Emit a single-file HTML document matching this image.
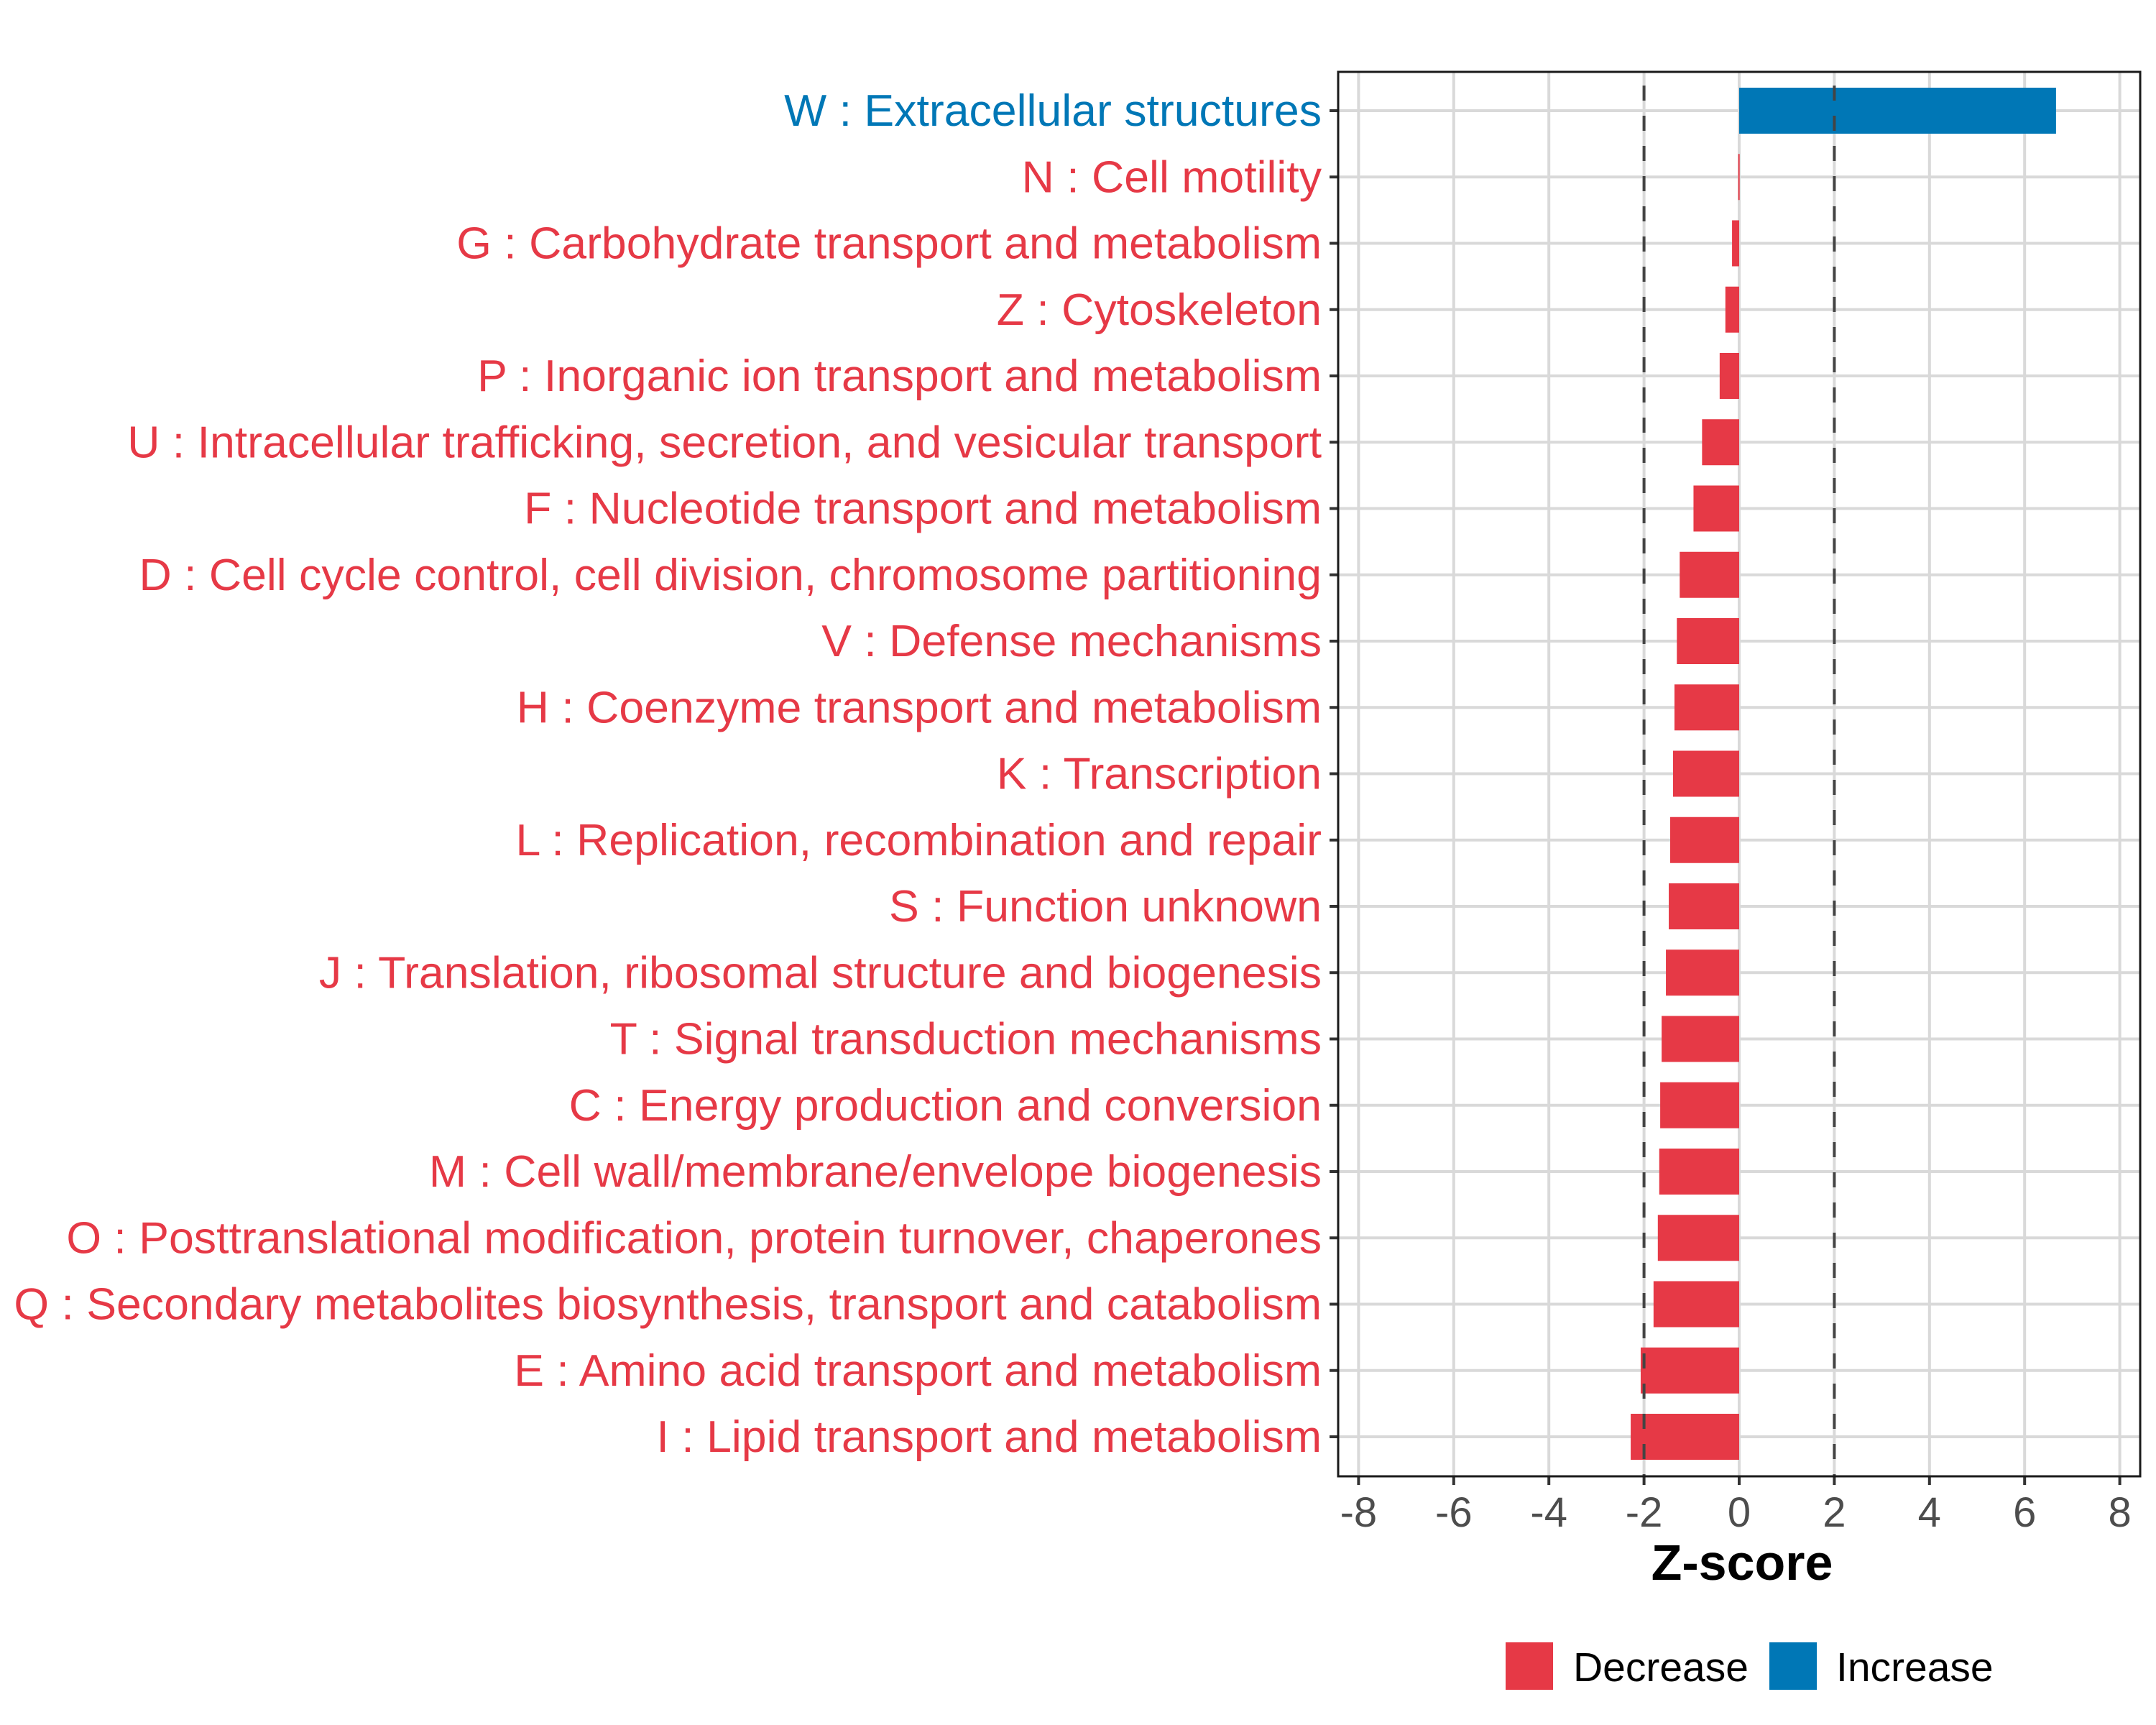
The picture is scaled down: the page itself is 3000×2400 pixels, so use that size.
<!DOCTYPE html>
<html><head><meta charset="utf-8"><style>
html,body{margin:0;padding:0;background:#fff;}
svg{display:block;font-family:"Liberation Sans",Arial,sans-serif;}
</style></head><body>
<svg id="chart" width="3000" height="2400" viewBox="0 0 3000 2400" xmlns="http://www.w3.org/2000/svg">
<rect width="3000" height="2400" fill="#fff"/>
<g id="grid"></g><g id="bars"></g><g id="refs"></g><g id="axes"></g>
<text x="2424" y="2198" text-anchor="middle" font-size="70" font-weight="bold" fill="#000">Z-score</text>
<g>
<rect x="2095" y="2285" width="66" height="66" fill="#E63946"/>
<text x="2189" y="2339" font-size="57" fill="#000">Decrease</text>
<rect x="2462" y="2285" width="66" height="66" fill="#0077B6"/>
<text x="2555" y="2339" font-size="57" fill="#000">Increase</text>
</g>
</svg>
<script>
const categories = ["W : Extracellular structures","N : Cell motility","G : Carbohydrate transport and metabolism","Z : Cytoskeleton","P : Inorganic ion transport and metabolism","U : Intracellular trafficking, secretion, and vesicular transport","F : Nucleotide transport and metabolism","D : Cell cycle control, cell division, chromosome partitioning","V : Defense mechanisms","H : Coenzyme transport and metabolism","K : Transcription","L : Replication, recombination and repair","S : Function unknown","J : Translation, ribosomal structure and biogenesis","T : Signal transduction mechanisms","C : Energy production and conversion","M : Cell wall/membrane/envelope biogenesis","O : Posttranslational modification, protein turnover, chaperones","Q : Secondary metabolites biosynthesis, transport and catabolism","E : Amino acid transport and metabolism","I : Lipid transport and metabolism"];
const zscores = [6.66,-0.02,-0.15,-0.29,-0.41,-0.78,-0.96,-1.25,-1.31,-1.36,-1.39,-1.45,-1.48,-1.54,-1.63,-1.66,-1.68,-1.71,-1.80,-2.07,-2.28];
const xTicks = [-8,-6,-4,-2,0,2,4,6,8];
const refLines = [-2,2];

const NS="http://www.w3.org/2000/svg";
const PL=1862, PR=2978, PT=100, PB=2054;
const X0=2420, UNIT=66.2;
const Y0=154, STEP=92.25, BARH=64;
function xs(v){return X0+v*UNIT;}
function ys(i){return Y0+i*STEP;}
function mk(tag,attrs,parent){const e=document.createElementNS(NS,tag);for(const k in attrs)e.setAttribute(k,attrs[k]);parent.appendChild(e);return e;}
const grid=document.getElementById('grid'),bars=document.getElementById('bars'),refs=document.getElementById('refs'),axes=document.getElementById('axes');

xTicks.forEach(t=>{
  const l=mk('line',{x1:xs(t),x2:xs(t),y1:PT,y2:PB,stroke:'#d9d9d9','stroke-width':4},grid);
  
  
  const tk=mk('line',{x1:xs(t),x2:xs(t),y1:PB,y2:PB+12,stroke:'#333','stroke-width':4},axes);
  
  
  const tx=mk('text',{x:xs(t),y:PB+70,'text-anchor':'middle','font-size':58,fill:'#4d4d4d'},axes);
  tx.textContent=t;
  
  
});
categories.forEach((c,i)=>{
  const g=mk('line',{x1:PL,x2:PR,y1:ys(i),y2:ys(i),stroke:'#d9d9d9','stroke-width':4},grid);
  
  
  const v=zscores[i];
  const col=v>0?'#0077B6':'#E63946';
  const x1=Math.min(xs(0),xs(v)), w=Math.max(Math.abs(xs(v)-xs(0)),2);
  const b=mk('rect',{x:x1,y:ys(i)-BARH/2,width:w,height:BARH,fill:col},bars);
  
  
  const tk=mk('line',{x1:PL-12,x2:PL,y1:ys(i),y2:ys(i),stroke:'#333','stroke-width':4},axes);
  
  
  const t=mk('text',{x:PL-23,y:ys(i)+21,'text-anchor':'end','font-size':62.6,fill:col},axes);
  t.textContent=c;
  
  
});
refLines.forEach(r=>{
  const l=mk('line',{x1:xs(r),x2:xs(r),y1:PT,y2:PB,stroke:'#444','stroke-width':4,'stroke-dasharray':'21 21','stroke-dashoffset':'-19'},refs);
  
  
});
const fr=mk('rect',{x:PL,y:PT,width:PR-PL,height:PB-PT,fill:'none',stroke:'#1a1a1a','stroke-width':3},axes);


</script>
</body></html>
